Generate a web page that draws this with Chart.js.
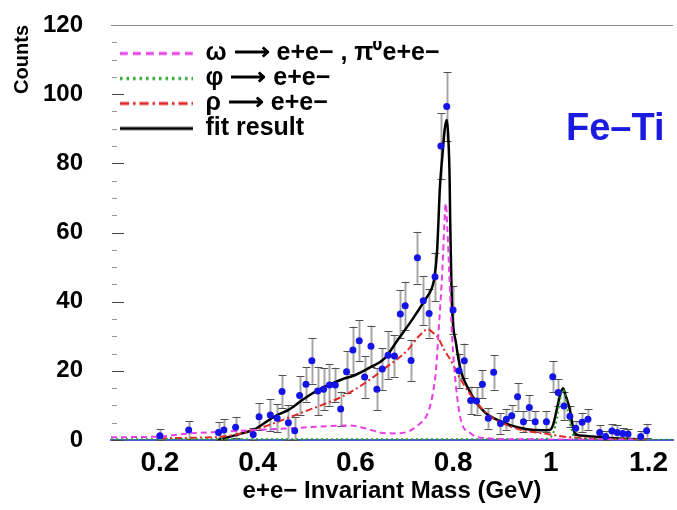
<!DOCTYPE html>
<html><head><meta charset="utf-8">
<script src="https://cdn.jsdelivr.net/npm/chart.js@4.4.1/dist/chart.umd.min.js"></script>
<style>html,body{margin:0;padding:0;background:#fff;}</style>
</head><body>
<canvas id="c" width="677" height="510"></canvas>
<script>
// ---- data points (e+e- invariant mass, counts, error) ----
const massPts = [0.200,0.259,0.320,0.331,0.355,0.391,0.403,0.426,0.440,0.450,0.463,0.476,0.486,0.499,0.511,0.523,0.535,0.547,0.559,0.570,0.582,0.595,0.608,0.619,0.632,0.644,0.655,0.667,0.680,0.692,0.702,0.714,0.727,0.739,0.751,0.763,0.775,0.787,0.800,0.812,0.823,0.836,0.848,0.860,0.872,0.883,0.897,0.909,0.920,0.932,0.944,0.956,0.968,0.991,1.004,1.015,1.027,1.039,1.051,1.064,1.076,1.100,1.112,1.125,1.136,1.147,1.158,1.184,1.196];
const countPts = [1.2,2.9,2.2,2.9,3.7,1.6,6.7,7.2,6.3,14.0,5.0,2.7,12.9,16.1,22.9,14.2,14.7,15.9,15.9,9.0,19.7,26.0,28.7,18.2,27.1,14.7,20.5,24.5,24.3,36.4,38.8,23.0,52.7,40.3,36.6,47.2,85.0,96.4,37.6,20.0,22.9,11.4,11.3,16.1,6.3,19.6,4.8,6.0,7.0,12.5,5.3,9.4,5.3,5.3,18.3,13.7,9.8,6.9,3.4,5.1,6.0,2.2,1.0,2.6,2.2,1.9,1.7,1.0,2.7];
const countErr = [1.9,2.6,3.0,3.2,3.0,2.0,3.9,4.6,4.0,4.8,5.0,4.0,5.6,5.0,6.6,7.0,6.0,6.0,5.0,5.0,6.0,6.8,6.0,6.0,6.0,6.0,6.0,7.0,6.0,7.0,7.0,6.0,7.5,7.0,7.0,7.0,9.5,10.0,7.0,5.0,5.0,4.0,4.0,4.0,3.0,5.0,3.0,3.0,3.0,4.0,3.0,3.5,3.0,3.0,4.5,4.0,4.0,3.0,2.0,2.8,3.0,2.0,1.5,2.0,2.0,1.5,1.5,1.5,2.0];

// ---- fit curves ----
const fitMass   = [0.318,0.340,0.355,0.370,0.391,0.410,0.423,0.440,0.463,0.490,0.510,0.531,0.550,0.572,0.600,0.633,0.660,0.687,0.710,0.727,0.745,0.755,0.761,0.767,0.770,0.773,0.778,0.783,0.787,0.790,0.793,0.794,0.796,0.798,0.806,0.816,0.829,0.849,0.865,0.883,0.917,0.951,0.980,0.998,1.005,1.012,1.020,1.025,1.030,1.039,1.045,1.049,1.060,1.086,1.120,1.188];
const fitCounts = [0.0,0.8,1.4,2.0,2.9,4.5,5.8,7.2,8.7,11.4,13.3,15.0,16.2,17.5,18.8,21.2,23.6,29.0,33.5,37.1,41.0,43.4,46.3,54.0,63.0,73.0,82.0,90.0,92.5,88.0,75.0,64.0,49.0,38.0,28.0,20.0,15.4,10.6,8.0,6.3,4.3,3.1,2.8,2.9,4.5,8.7,13.5,15.0,13.0,8.7,4.0,1.9,1.3,1.0,0.6,0.2];

const omegaMass   = [0.100,0.200,0.260,0.330,0.400,0.470,0.530,0.590,0.620,0.650,0.680,0.707,0.730,0.748,0.758,0.765,0.771,0.778,0.782,0.785,0.788,0.792,0.798,0.806,0.816,0.836,0.870,0.950,1.200];
const omegaCounts = [0.8,1.0,1.9,2.4,2.9,3.4,3.9,4.2,3.4,2.2,1.9,2.4,4.5,7.7,13.0,20.2,32.8,49.0,62.0,68.4,62.0,49.0,29.9,15.4,5.8,1.9,0.5,0.2,0.1];

const phiMass   = [0.100,0.980,0.995,1.005,1.012,1.018,1.024,1.028,1.034,1.040,1.047,1.060,1.250];
const phiCounts = [0.2,0.2,0.5,2.0,6.0,11.0,14.5,14.0,9.0,4.5,1.2,0.3,0.1];

const rhoMass   = [0.200,0.280,0.328,0.382,0.423,0.477,0.531,0.572,0.619,0.660,0.707,0.730,0.748,0.761,0.768,0.782,0.795,0.816,0.849,0.880,0.917,0.950,0.985,1.025,1.070,1.200];
const rhoCounts = [0.5,0.7,1.0,2.4,4.3,7.2,10.1,12.5,16.4,20.7,26.0,30.0,32.0,30.8,29.9,26.0,23.1,17.4,10.6,6.5,3.9,2.6,1.9,1.0,0.5,0.1];

const seriesNames = ['ω ⟶ e+e− , π⁰e+e−', 'φ ⟶ e+e−', 'ρ ⟶ e+e−', 'fit result'];
const xTitle = 'e+e− Invariant Mass (GeV)';
const yTitle = 'Counts';
const sampleLabel = 'Fe–Ti';

const pairs = (xs, ys) => xs.map((x, i) => ({x, y: ys[i]}));

const LEGEND_LINE_W = 73;
function legendLine(color, width, dash) {
  const cv = document.createElement('canvas');
  cv.width = LEGEND_LINE_W; cv.height = 6;
  const g = cv.getContext('2d');
  g.strokeStyle = color; g.lineWidth = width; g.setLineDash((dash || []).map(d => d * 1.3));
  g.beginPath(); g.moveTo(0, 3); g.lineTo(LEGEND_LINE_W, 3); g.stroke();
  return cv;
}

const errorBarPlugin = {
  id: 'errorBars',
  beforeDatasetsDraw(chart) {
    const ds = chart.data.datasets[0];
    const xs = chart.scales.x, ys = chart.scales.y, ctx = chart.ctx;
    ctx.save();
    ds.data.forEach((p, i) => {
      const e = ds.errors[i];
      const px = Math.round(xs.getPixelForValue(p.x)) + 0.5;
      const top = ys.getPixelForValue(Math.min(p.y + e, ys.max));
      const bot = ys.getPixelForValue(Math.max(p.y - e, ys.min));
      ctx.strokeStyle = '#a6a6a6'; ctx.lineWidth = 2;
      ctx.beginPath(); ctx.moveTo(px, top); ctx.lineTo(px, bot); ctx.stroke();
      ctx.strokeStyle = '#505050'; ctx.lineWidth = 1;
      ctx.beginPath();
      ctx.moveTo(px - 4, Math.round(top) + 0.5); ctx.lineTo(px + 4, Math.round(top) + 0.5);
      ctx.moveTo(px - 4, Math.round(bot) + 0.5); ctx.lineTo(px + 4, Math.round(bot) + 0.5);
      ctx.stroke();
    });
    ctx.restore();
  }
};

const yTickMarks = {
  id: 'yTickMarks',
  beforeDatasetsDraw(chart) {
    const ys = chart.scales.y, ctx = chart.ctx, left = chart.chartArea.left;
    ctx.save();
    for (let v = ys.min; v < ys.max; v += 5) {
      const py = Math.round(ys.getPixelForValue(v)) + 0.5;
      const major = v % 20 === 0;
      ctx.strokeStyle = major ? '#444' : '#999';
      ctx.lineWidth = 1;
      ctx.beginPath(); ctx.moveTo(left + 1, py); ctx.lineTo(left + 1 + (major ? 12 : 5), py); ctx.stroke();
    }
    ctx.restore();
  }
};

const legendPlace = {
  id: 'legendPlace',
  afterLayout(chart) {
    const lg = chart.legend;
    if (lg) { lg.left = chart.chartArea.left + 9; lg.top = chart.chartArea.top + 16; }
  }
};

const sampleText = {
  id: 'sampleText',
  afterDraw(chart) {
    const ctx = chart.ctx;
    ctx.save();
    ctx.font = 'bold 38px "Liberation Sans", Arial, sans-serif';
    ctx.fillStyle = '#1a1ae0';
    ctx.textBaseline = 'alphabetic';
    ctx.fillText(sampleLabel, 566, 140);
    ctx.restore();
  }
};

Chart.defaults.font.family = '"Liberation Sans", Arial, sans-serif';
Chart.defaults.color = '#000';

new Chart(document.getElementById('c'), {
  type: 'scatter',
  data: {
    datasets: [
      { label: 'data', data: pairs(massPts, countPts), errors: countErr,
        pointRadius: 3.5, pointBackgroundColor: '#1414e6', pointBorderWidth: 0, showLine: false },
      { type: 'line', label: seriesNames[0], data: pairs(omegaMass, omegaCounts), showLine: true, pointRadius: 0,
        borderColor: '#e83ee8', borderWidth: 2, borderDash: [6, 4], cubicInterpolationMode: 'monotone' },
      { type: 'line', label: seriesNames[1], data: pairs(phiMass, phiCounts), showLine: true, pointRadius: 0,
        borderColor: '#22a022', borderWidth: 2, borderDash: [2, 3], cubicInterpolationMode: 'monotone' },
      { type: 'line', label: seriesNames[2], data: pairs(rhoMass, rhoCounts), showLine: true, pointRadius: 0,
        borderColor: '#e02828', borderWidth: 2, borderDash: [7, 3, 2, 3], cubicInterpolationMode: 'monotone' },
      { type: 'line', label: seriesNames[3], data: pairs(fitMass, fitCounts), showLine: true, pointRadius: 0,
        borderColor: '#000', borderWidth: 2.5, cubicInterpolationMode: 'monotone' }
    ]
  },
  options: {
    responsive: false,
    animation: false,
    layout: { padding: { top: 25, right: 0, left: 0, bottom: 0 } },
    scales: {
      x: {
        type: 'linear', min: 0.1, max: 1.25,
        ticks: { stepSize: 0.2, includeBounds: false, padding: 6, maxRotation: 0, autoSkip: false,
          font: { size: 28, weight: 'bold' }, color: '#000',
          callback: v => String(Number(v.toFixed(1))) },
        grid: { display: false, drawTicks: false },
        border: { display: true, color: '#4a5ad8', width: 2 },
        title: { display: true, text: xTitle, font: { size: 24, weight: 'bold' }, color: '#000', padding: { top: 0, bottom: 4 } },
        afterFit: s => { s.height = 70; s.paddingLeft = 0; s.paddingRight = 0; }
      },
      y: {
        min: 0, max: 120,
        ticks: { stepSize: 20, padding: 28, color: '#000', font: { size: 24, weight: 'bold' } },
        grid: { drawTicks: false, lineWidth: 1,
          color: ctx => (ctx.tick && ctx.tick.value === 120) ? '#8a8a8a' : 'rgba(0,0,0,0)' },
        border: { display: false },
        title: { display: true, text: yTitle, align: 'end', color: '#000', font: { size: 20, weight: 'bold' }, padding: { top: 10, bottom: 0 } },
        afterFit: s => { s.width = 111; s.paddingTop = 0; s.paddingBottom = 0; }
      }
    },
    plugins: {
      legend: {
        position: 'chartArea', align: 'start',
        labels: {
          usePointStyle: true, pointStyleWidth: LEGEND_LINE_W, padding: 0, color: '#000',
          font: { size: 25, weight: 'bold' },
          generateLabels: chart => Chart.defaults.plugins.legend.labels.generateLabels(chart).map(item => {
            const ds = chart.data.datasets[item.datasetIndex];
            item.pointStyle = legendLine(ds.borderColor, 3, ds.borderDash);
            return item;
          }),
          filter: item => item.datasetIndex > 0
        }
      },
      tooltip: { enabled: false }
    }
  },
  plugins: [errorBarPlugin, yTickMarks, legendPlace, sampleText]
});
</script>
</body></html>
